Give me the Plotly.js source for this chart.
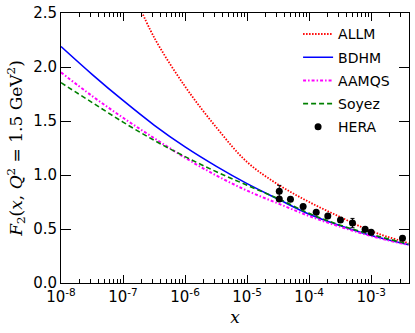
<!DOCTYPE html>
<html>
<head>
<meta charset="utf-8">
<script src="https://cdn.plot.ly/plotly-3.0.1.min.js"></script>
<style>
  html, body { margin: 0; padding: 0; background: #fff; }
  #plot { width: 415px; height: 333px; }
</style>
</head>
<body>
<div id="plot"></div>
<script>
// curves (x, F2)
var xCurve = [1e-8, 3.2e-8, 1e-7, 3.2e-7, 1e-6, 3.2e-6, 1e-5, 3.2e-5, 1e-4, 3.2e-4, 1e-3, 4e-3];
var bdhm  = [2.19, 1.93, 1.69, 1.46, 1.26, 1.08, 0.92, 0.775, 0.637, 0.53, 0.44, 0.355];
var aamqs = [1.95, 1.73, 1.53, 1.34, 1.16, 0.995, 0.855, 0.735, 0.62, 0.52, 0.435, 0.352];
var soyez = [1.855, 1.67, 1.49, 1.32, 1.17, 1.03, 0.905, 0.78, 0.645, 0.535, 0.45, 0.36];

var xAllm = [1.6e-7, 3.2e-7, 1e-6, 3.2e-6, 1e-5, 3.2e-5, 1e-4, 3.2e-4, 1e-3, 4e-3];
var allm  = [2.64, 2.27, 1.82, 1.44, 1.12, 0.91, 0.75, 0.61, 0.48, 0.37];

// HERA points
var xHera   = [3.3e-5, 3.3e-5, 5.0e-5, 8.0e-5, 1.3e-4, 2.0e-4, 3.2e-4, 5.0e-4, 8.0e-4, 1.0e-3, 3.2e-3];
var f2Hera  = [0.849, 0.778, 0.775, 0.708, 0.654, 0.62, 0.583, 0.555, 0.497, 0.469, 0.415];
var errHera = [0.055, 0.02, 0.02, 0.02, 0.02, 0.02, 0.02, 0.043, 0.02, 0.02, 0.02];

var majorX = [1e-8, 1e-7, 1e-6, 1e-5, 1e-4, 1e-3];
var majorXText = ['10<sup>-8</sup>', '10<sup>-7</sup>', '10<sup>-6</sup>', '10<sup>-5</sup>', '10<sup>-4</sup>', '10<sup>-3</sup>'];

var minorX = [];
for (var e = -8; e <= -3; e++) {
  for (var m = 2; m <= 9; m++) {
    minorX.push(m * Math.pow(10, e));
  }
}

var data = [
  {x: xAllm, y: allm, type: 'scatter', mode: 'lines', name: 'ALLM', legendgroup: 'a',
   line: {color: 'red', width: 1.8, dash: '1.5px,1.5px', shape: 'spline'}},
  {x: xCurve, y: bdhm, type: 'scatter', mode: 'lines', name: 'BDHM', legendgroup: 'b',
   line: {color: 'blue', width: 1.6, shape: 'spline'}},
  {x: xCurve, y: aamqs, type: 'scatter', mode: 'lines', name: 'AAMQS', legendgroup: 'c',
   line: {color: 'magenta', width: 2, dash: '3px,2px,1.5px,2px', shape: 'spline'}},
  {x: xCurve, y: soyez, type: 'scatter', mode: 'lines', name: 'Soyez', legendgroup: 'd',
   line: {color: 'green', width: 1.6, dash: '5px,3px', shape: 'spline'}},
  {x: xHera, y: f2Hera, type: 'scatter', mode: 'markers', name: 'HERA', legendgroup: 'e',
   marker: {color: 'black', size: 7},
   error_y: {type: 'data', array: errHera, visible: true, color: 'black', thickness: 1, width: 2}}
];

var layout = {
  width: 415,
  height: 333,
  margin: {l: 61, r: 6, t: 13, b: 50},
  paper_bgcolor: 'white',
  plot_bgcolor: 'white',
  font: {family: 'DejaVu Sans', size: 14, color: 'black'},
  showlegend: true,
  legend: {
    x: 0.96, y: 0.98, xanchor: 'right', yanchor: 'top',
    tracegroupgap: 2,
    bgcolor: 'rgba(0,0,0,0)', font: {size: 14}
  },
  xaxis: {
    type: 'log',
    range: [-8, -2.39],
    tickvals: majorX,
    ticktext: majorXText,
    ticks: 'inside', ticklen: 8, tickwidth: 1, tickcolor: 'black',
    minor: {tickvals: minorX, ticks: 'inside', ticklen: 4, tickwidth: 1, tickcolor: 'black', showgrid: false},
    showline: true, linecolor: 'black', linewidth: 1, mirror: 'allticks',
    showgrid: false, zeroline: false,
    tickfont: {size: 15},
    title: {text: '<i>x</i>', font: {family: 'DejaVu Serif', size: 17}, standoff: 6}
  },
  yaxis: {
    range: [0, 2.5],
    tickvals: [0, 0.5, 1.0, 1.5, 2.0, 2.5],
    ticktext: ['0.0', '0.5', '1.0', '1.5', '2.0', '2.5'],
    ticks: 'inside', ticklen: 10, tickwidth: 1, tickcolor: 'black',
    showline: true, linecolor: 'black', linewidth: 1, mirror: 'allticks',
    showgrid: false, zeroline: false,
    tickfont: {size: 15},
    title: {text: '<i>F</i><sub>2</sub>(<i>x</i>, <i>Q</i><sup>2</sup> = 1.5 GeV<sup>2</sup>)',
            font: {family: 'DejaVu Serif', size: 17}, standoff: 6}
  }
};

Plotly.newPlot('plot', data, layout, {staticPlot: true});
</script>
</body>
</html>
